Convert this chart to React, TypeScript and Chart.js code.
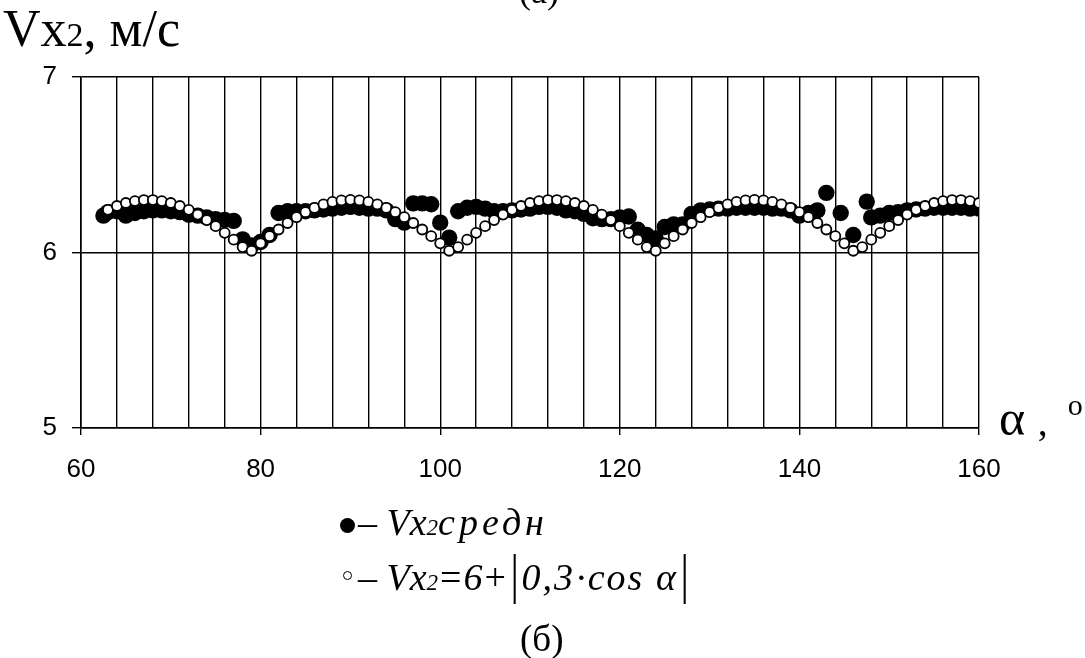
import React, { useEffect, useRef } from "react";
import { Chart, registerables } from "chart.js";

Chart.register(...registerables);

// Open circles: Vx2 = 6 + |0,3·cos α|
const alphaOpen: number[] = [
  63, 64, 65, 66, 67, 68, 69, 70, 71, 72, 73, 74, 75, 76, 77, 78, 79, 80, 81, 82,
  83, 84, 85, 86, 87, 88, 89, 90, 91, 92, 93, 94, 95, 96, 97, 98, 99, 100, 101, 102,
  103, 104, 105, 106, 107, 108, 109, 110, 111, 112, 113, 114, 115, 116, 117, 118, 119, 120, 121, 122,
  123, 124, 125, 126, 127, 128, 129, 130, 131, 132, 133, 134, 135, 136, 137, 138, 139, 140, 141, 142,
  143, 144, 145, 146, 147, 148, 149, 150, 151, 152, 153, 154, 155, 156, 157, 158, 159, 160,
];
const vOpen: number[] = [
  6.243, 6.265, 6.282, 6.293, 6.299, 6.299, 6.293, 6.282, 6.265, 6.243, 6.216, 6.185, 6.15, 6.112, 6.073, 6.031, 6.01, 6.052, 6.093, 6.131,
  6.168, 6.201, 6.23, 6.254, 6.274, 6.288, 6.297, 6.3, 6.297, 6.288, 6.274, 6.254, 6.23, 6.201, 6.168, 6.131, 6.093, 6.052, 6.01, 6.031,
  6.073, 6.112, 6.15, 6.185, 6.216, 6.243, 6.265, 6.282, 6.293, 6.299, 6.299, 6.293, 6.282, 6.265, 6.243, 6.216, 6.185, 6.15, 6.112, 6.073,
  6.031, 6.01, 6.052, 6.093, 6.131, 6.168, 6.201, 6.23, 6.254, 6.274, 6.288, 6.297, 6.3, 6.297, 6.288, 6.274, 6.254, 6.23, 6.201, 6.168,
  6.131, 6.093, 6.052, 6.01, 6.031, 6.073, 6.112, 6.15, 6.185, 6.216, 6.243, 6.265, 6.282, 6.293, 6.299, 6.299, 6.293, 6.282,
];

// Filled circles: Vx2 средн (measured)
const alphaMean: number[] = [
  62.5, 63, 64, 65, 66, 67, 68, 69, 70, 71, 72, 73, 74, 75, 76, 77, 78, 79, 80, 81,
  82, 83, 84, 85, 86, 87, 88, 89, 90, 91, 92, 93, 94, 95, 96, 97, 98, 99, 100, 101,
  102, 103, 104, 105, 106, 107, 108, 109, 110, 111, 112, 113, 114, 115, 116, 117, 118, 119, 120, 121,
  122, 123, 124, 125, 126, 127, 128, 129, 130, 131, 132, 133, 134, 135, 136, 137, 138, 139, 140, 141,
  142, 143, 144.6, 146, 147.5, 148, 149, 150, 151, 152, 153, 154, 155, 156, 157, 158, 159, 160,
];
const vMean: number[] = [
  6.21, 6.23, 6.235, 6.21, 6.225, 6.235, 6.24, 6.24, 6.235, 6.23, 6.215, 6.21, 6.2, 6.19, 6.185, 6.18, 6.075, 6.04, 6.06, 6.1,
  6.225, 6.235, 6.235, 6.235, 6.24, 6.245, 6.25, 6.255, 6.26, 6.255, 6.25, 6.25, 6.24, 6.19, 6.17, 6.28, 6.28, 6.275, 6.17, 6.085,
  6.235, 6.255, 6.26, 6.25, 6.235, 6.235, 6.24, 6.245, 6.25, 6.26, 6.26, 6.255, 6.24, 6.235, 6.22, 6.195, 6.19, 6.19, 6.2, 6.205,
  6.13, 6.1, 6.08, 6.145, 6.16, 6.16, 6.22, 6.24, 6.245, 6.25, 6.25, 6.255, 6.255, 6.255, 6.255, 6.25, 6.25, 6.24, 6.21, 6.225,
  6.24, 6.34, 6.225, 6.1, 6.29, 6.2, 6.21, 6.225, 6.23, 6.24, 6.245, 6.25, 6.255, 6.255, 6.255, 6.255, 6.25, 6.25,
];

const xMin = 60;
const xMax = 160;
const xStep = 4;
const xLabelStep = 20;
const yMin = 5;
const yMax = 7;

const SERIF = "'Liberation Serif', 'Times New Roman', serif";
const SANS = "'Liberation Sans', Arial, sans-serif";

export default function App() {
  const canvasRef = useRef<HTMLCanvasElement | null>(null);

  useEffect(() => {
    if (!canvasRef.current) return;
    const chart = new Chart(canvasRef.current, {
      type: "scatter",
      data: {
        datasets: [
          {
            label: "Vx2=6+|0,3·cos α|",
            data: alphaOpen.map((a, i) => ({ x: a, y: vOpen[i] })),
            pointStyle: "circle",
            pointRadius: 5,
            pointBackgroundColor: "#ffffff",
            pointBorderColor: "#000000",
            pointBorderWidth: 1.8,
            order: 0,
          },
          {
            label: "Vx2средн",
            data: alphaMean.map((a, i) => ({ x: a, y: vMean[i] })),
            pointStyle: "circle",
            pointRadius: 8.2,
            pointBackgroundColor: "#000000",
            pointBorderColor: "#000000",
            pointBorderWidth: 0,
            order: 1,
          },
        ],
      },
      options: {
        animation: false,
        responsive: true,
        maintainAspectRatio: false,
        layout: { padding: { left: 0, top: 77, right: 106, bottom: 180 } },
        plugins: {
          legend: { display: false },
          tooltip: { enabled: false },
          title: { display: false },
        },
        scales: {
          x: {
            type: "linear",
            min: xMin,
            max: xMax,
            afterFit: (scale: any) => {
              scale.height = 50;
            },
            ticks: {
              stepSize: xStep,
              autoSkip: false,
              maxRotation: 0,
              padding: 19,
              color: "#000",
              font: { family: SANS, size: 26 },
              callback: (v: any) => (Number(v) % xLabelStep === 0 ? String(v) : ""),
            },
            grid: {
              color: "#000",
              lineWidth: 1.4,
              tickLength: 7,
              tickColor: (ctx: any) =>
                ctx.tick && Number(ctx.tick.value) % xLabelStep === 0 ? "#000" : "rgba(0,0,0,0)",
            },
            border: { color: "#000", width: 1.6 },
          },
          y: {
            type: "linear",
            min: yMin,
            max: yMax,
            afterFit: (scale: any) => {
              scale.width = 81;
            },
            ticks: {
              stepSize: 1,
              padding: 15,
              color: "#000",
              font: { family: SANS, size: 26 },
            },
            grid: {
              color: "#000",
              lineWidth: 1.4,
              tickLength: 9,
              tickColor: "#000",
            },
            border: { color: "#000", width: 1.6 },
          },
        },
      },
    });
    return () => chart.destroy();
  }, []);

  const abs = (left: number, top: number, extra: React.CSSProperties = {}): React.CSSProperties => ({
    position: "absolute",
    left,
    top,
    lineHeight: 1,
    whiteSpace: "nowrap",
    color: "#000",
    ...extra,
  });

  const bar: React.CSSProperties = {
    display: "inline-block",
    transform: "scale(1.1, 1.45)",
    transformOrigin: "50% 70%",
    margin: "0 3px",
  };

  return (
    <div style={{ position: "absolute", left: 0, top: 0, width: 1085, height: 658, background: "#fff", overflow: "hidden" }}>
      <canvas ref={canvasRef} style={{ position: "absolute", left: 0, top: 0, width: 1085, height: 658 }} />

      {/* (а) cut at the top */}
      <div style={abs(519, -27, { fontFamily: SERIF, fontSize: 36 })}>(а)</div>

      {/* Y axis title */}
      <div style={abs(3, 3, { fontFamily: SERIF, fontSize: 52 })}>
        V<span>x</span>
        <span style={{ fontSize: 34 }}>2</span>, м/с
      </div>

      {/* X axis title */}
      <div style={abs(999, 393, { fontFamily: SERIF, fontSize: 50 })}>
        α <span style={{ fontSize: 40 }}>,</span>
        <span style={{ fontSize: 30, position: "relative", top: -20, marginLeft: 20 }}>o</span>
      </div>

      {/* Legend */}
      <div style={{ position: "absolute", left: 340, top: 518, width: 15, height: 15, borderRadius: "50%", background: "#000" }} />
      <div style={abs(358, 503, { fontFamily: SERIF, fontSize: 38 })}>
        – <i>V</i>
        <i>x</i>
        <i style={{ fontSize: 23 }}>2</i>
        <i style={{ letterSpacing: 4 }}>средн</i>
      </div>

      <div style={{ position: "absolute", left: 343, top: 571, width: 7, height: 7, borderRadius: "50%", border: "1.3px solid #000", background: "#fff" }} />
      <div style={abs(358, 558, { fontFamily: SERIF, fontSize: 38 })}>
        – <i>V</i>
        <i>x</i>
        <i style={{ fontSize: 23 }}>2</i>
        <span style={{ margin: "0 2px" }}>=</span>
        <i>6</i>
        <span style={{ margin: "0 2px" }}>+</span>
        <span style={bar}>|</span>
        <i style={{ letterSpacing: 2 }}>0,3</i>
        <span>·</span>
        <i style={{ letterSpacing: 2 }}>cos α</i>
        <span style={bar}>|</span>
      </div>

      {/* (б) */}
      <div style={abs(520, 620, { fontFamily: SERIF, fontSize: 37 })}>(б)</div>
    </div>
  );
}
